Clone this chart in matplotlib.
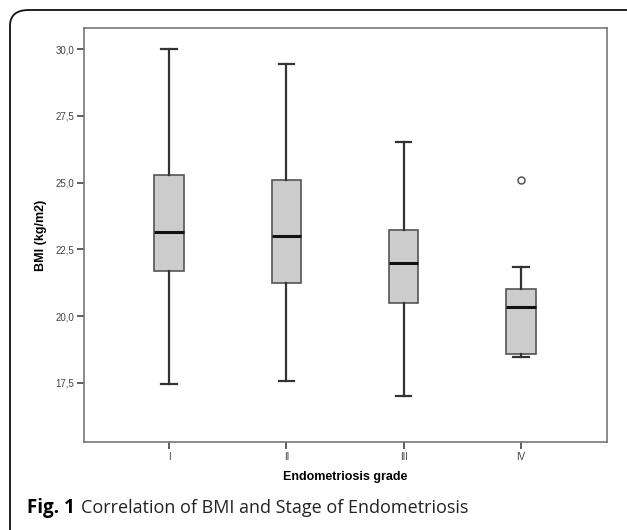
import matplotlib.pyplot as plt
from matplotlib.patches import FancyBboxPatch

grades = ["I", "II", "III", "IV"]
whisker_low = [17.47, 17.57, 17.02, 18.46]
q1 = [21.68, 21.23, 20.50, 18.59]
median = [23.14, 23.02, 21.98, 20.35]
q3 = [25.27, 25.11, 23.23, 21.00]
whisker_high = [30.0, 29.43, 26.52, 21.86]
outliers = [[], [], [], [25.11]]

stats = []
for i, g in enumerate(grades):
    stats.append({
        "label": g,
        "whislo": whisker_low[i],
        "q1": q1[i],
        "med": median[i],
        "q3": q3[i],
        "whishi": whisker_high[i],
        "fliers": outliers[i],
    })

fig = plt.figure(figsize=(6.27, 5.30), dpi=100)

# outer frame with rounded corner (right/bottom fall outside the image)
frame = FancyBboxPatch((10 / 627, -0.4), 1.2, 1 - 10 / 530 + 0.4,
                       boxstyle="round,pad=0,rounding_size=0.03",
                       transform=fig.transFigure, fill=False,
                       edgecolor="#111111", linewidth=1.3)
fig.patches.append(frame)

ax = fig.add_axes([84 / 627, 1 - 442 / 530, (607 - 84) / 627, (442 - 28) / 530])

ax.bxp(stats, positions=[1, 2, 3, 4], widths=0.25, capwidths=0.13,
       patch_artist=True,
       boxprops=dict(facecolor="#cccccc", edgecolor="#555555", linewidth=1.2),
       medianprops=dict(color="#111111", linewidth=2.2),
       whiskerprops=dict(color="#333333", linewidth=1.6),
       capprops=dict(color="#333333", linewidth=1.6),
       flierprops=dict(marker="o", markersize=5, markerfacecolor="white",
                       markeredgecolor="#555555", markeredgewidth=1.1))

ax.set_xlim(0.276, 4.732)
ax.set_ylim(15.29, 30.79)
ax.set_yticks([17.5, 20.0, 22.5, 25.0, 27.5, 30.0])
ax.set_yticklabels(["17,5", "20,0", "22,5", "25,0", "27,5", "30,0"])

for s in ax.spines.values():
    s.set_color("#777777")
    s.set_linewidth(1.2)

ax.tick_params(axis="both", direction="out", length=5, width=1.2,
               color="#444444", labelsize=7, labelcolor="#444444", pad=2,
               labelfontfamily="Liberation Sans")

ax.set_ylabel("BMI (kg/m2)", fontsize=9, fontweight="bold",
              family="Liberation Sans", labelpad=6)
ax.set_xlabel("Endometriosis grade", fontsize=9, fontweight="bold",
              family="Liberation Sans", labelpad=7)

fig.text(27 / 627, 1 - 508 / 530, "Fig. 1", fontsize=13.5, fontweight="bold",
         family="Open Sans", va="center", ha="left")
fig.text(81 / 627, 1 - 508 / 530, "Correlation of BMI and Stage of Endometriosis",
         fontsize=13, family="Open Sans", va="center", ha="left", color="#222222")

fig.savefig("out.png", dpi=100)
